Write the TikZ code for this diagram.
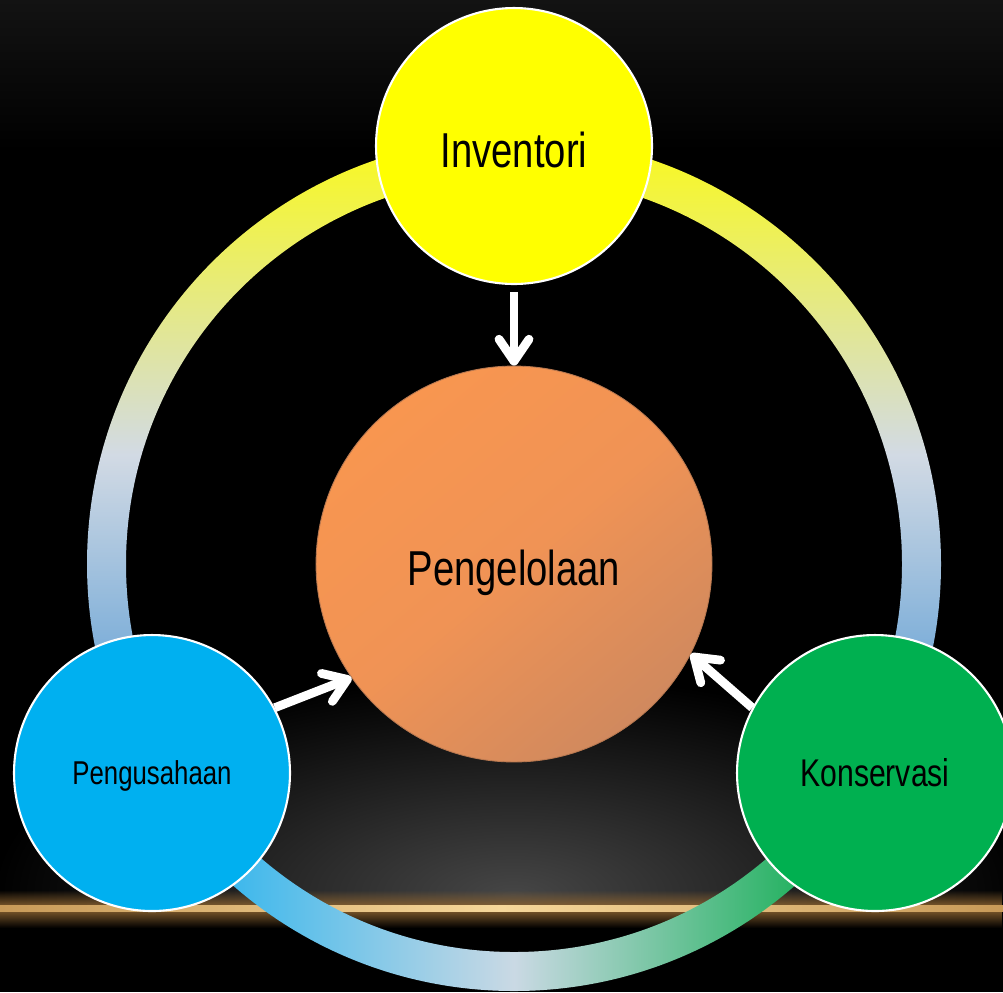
\documentclass[tikz,border=0pt]{standalone}
\usepackage{fontspec}
\setmainfont{Liberation Sans}[FakeStretch=0.78]
\usetikzlibrary{arrows.meta,fadings}
\definecolor{ringY}{HTML}{FAFA1A}
\definecolor{ringP}{HTML}{D2DAE4}
\definecolor{ringB}{HTML}{4A94D2}
\definecolor{ringL}{HTML}{3DB8EC}
\definecolor{ringM}{HTML}{CAD9E4}
\definecolor{ringR}{HTML}{26B262}
\definecolor{invY}{HTML}{FFFF00}
\definecolor{usahaB}{HTML}{00B0F0}
\definecolor{konsG}{HTML}{00B050}
\definecolor{orA}{HTML}{F89650}
\definecolor{orM}{HTML}{F09355}
\definecolor{orB}{HTML}{D0895E}
\definecolor{orEdge}{HTML}{B87850}
\definecolor{glowG}{HTML}{464646}
\definecolor{goldA}{HTML}{C89A58}
\definecolor{goldB}{HTML}{F6D79A}
\definecolor{goldGlow}{HTML}{8A6230}
\definecolor{topGrey}{HTML}{131313}
\tikzset{
  outer/.style={circle, draw=white, line width=1.2pt, minimum size=5.52cm, inner sep=0pt, text=black},
  arr/.style={white, line width=5pt, line cap=butt,
    -{Straight Barb[length=0.44cm, width=0.6cm, line cap=round, line join=round]}}
}
\begin{document}
\begin{tikzpicture}[x=0.02cm, y=-0.02cm]
\useasboundingbox (0,0) rectangle (1003,992);
% background
\fill[black] (0,0) rectangle (1003,992);
\shade[top color=topGrey, bottom color=black] (0,0) rectangle (1003,150);
\begin{scope}
  \clip (0,680) rectangle (1003,908);
  \shade[inner color=glowG, outer color=black] (513,895) ellipse (520 and 220);
\end{scope}
\fill[goldGlow, path fading=north] (0,890) rectangle (1003,908);
\fill[goldGlow, path fading=south] (0,908) rectangle (1003,928);
\shade[left color=goldA, right color=goldA, middle color=goldB] (0,905) rectangle (1003,911);
% ring
\coordinate (cen) at (514,564);
\begin{scope}[even odd rule]
  \clip (0,0) rectangle (1003,773);
  \clip (cen) circle (427) (cen) circle (388);
  \shade[top color=ringY, bottom color=ringB, middle color=ringP] (80,136) rectangle (950,773);
\end{scope}
\begin{scope}[even odd rule]
  \clip (0,773) rectangle (1003,992);
  \clip (cen) circle (427) (cen) circle (388);
  \shade[left color=ringL, right color=ringR, middle color=ringM] (232,773) rectangle (796,992);
\end{scope}
% outer circles
\node[outer, fill=invY, font=\fontsize{27.9pt}{32pt}\selectfont, text height=24pt, text depth=0pt] (inv) at (514,146) {Inventori};
\node[outer, fill=usahaB, font=\fontsize{18.8pt}{22pt}\selectfont, text height=13.4pt, text depth=0pt] (usa) at (152,773) {Pengusahaan};
\node[outer, fill=konsG, font=\fontsize{22pt}{26pt}\selectfont, text height=15.8pt, text depth=0pt] (kon) at (875,773) {Konservasi};
% centre
\node[circle, draw=orEdge, line width=0.5pt, minimum size=7.92cm, inner sep=0pt,
  top color=orA, bottom color=orB, middle color=orM, shading angle=40,
  font=\fontsize{27.9pt}{32pt}\selectfont, text height=24pt, text depth=0pt] (pen) at (cen) {Pengelolaan};
% arrows
\draw[arr, shorten <=0.14cm] (inv.south) -- (pen.north);
\draw[arr] (usa.28) -- (pen.215);
\draw[arr] (kon.152) -- (pen.333);
\end{tikzpicture}
\end{document}
